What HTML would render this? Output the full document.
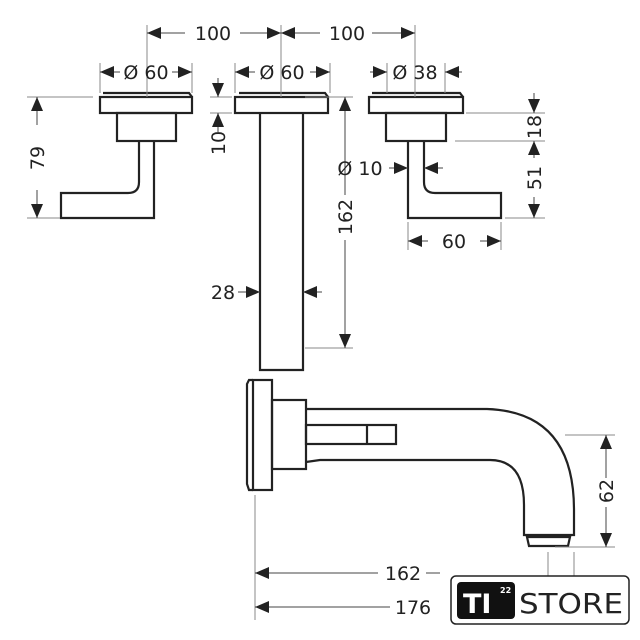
<!DOCTYPE html>
<html><head><style>body{margin:0;background:#fff}svg{display:block}text{font-family:"DejaVu Sans","Liberation Sans",sans-serif;fill:#222}</style></head>
<body>
<svg width="640" height="640" viewBox="0 0 640 640" xmlns="http://www.w3.org/2000/svg">
<defs>
<marker id="a" markerUnits="userSpaceOnUse" markerWidth="16" markerHeight="14" refX="14" refY="6" orient="auto"><path d="M0,0 L14,6 L0,12 Z" fill="#222"/></marker>
</defs>
<g fill="none" stroke="#222" stroke-width="2.2">
<path d="M103,93 H189 L192,97"/><rect x="100" y="97" width="92" height="16"/>
<rect x="117" y="113" width="59" height="28"/>
<path d="M139,141 V182 Q139,193 128,193 H61 V218 H154 V141"/>
<path d="M239,93 H325 L328,97"/><rect x="235" y="97" width="93" height="16"/>
<path d="M260,113 V370 H303 V113"/>
<path d="M372,93 H460 L463,97"/><rect x="369" y="97" width="94" height="16"/>
<rect x="386" y="113" width="60" height="28"/>
<path d="M408,141 V218 H501 V193 H435 Q424,193 424,182 V141"/>
<path d="M253,380 H249 L247,384 V484 L249,490 H253"/>
<rect x="253" y="380" width="19" height="110"/>
<rect x="272" y="400" width="34" height="69"/>
<path d="M306,409 H487 Q574,412 574,510 V535 H524 V505 Q524,460 490,460 H320 L306,462"/>
<rect x="306" y="425" width="90" height="19"/><path d="M367,425 V444"/>
<path d="M527,537 H570 L568,546 H529 Z"/>
</g>
<g stroke="#888" stroke-width="1" fill="none">
<path d="M147,25 V97 M281,25 V97 M415,25 V97"/>
<path d="M100,63 V93 M192,63 V93 M235,63 V93 M330,63 V93 M387,63 V93 M445,63 V93"/>
<path d="M27,97 H93 M27,218 H60"/>
<path d="M210,97 H232 M210,113 H232 M305,97 H353"/>
<path d="M305,348 H353"/>
<path d="M466,113 H545 M455,141 H545 M505,218 H545"/>
<path d="M408,222 V250 M501,222 V250"/>
<path d="M565,435 H615 M555,547 H615"/>
<path d="M255,495 V620 M548,552 V580 M574,552 V580"/>
</g>
<g stroke="#444" stroke-width="1" fill="none">
<path d="M185,33 H147" marker-end="url(#a)"/><path d="M240,33 H281" marker-end="url(#a)"/>
<path d="M320,33 H281" marker-end="url(#a)"/><path d="M372,33 H415" marker-end="url(#a)"/>
<path d="M120,72 H100" marker-end="url(#a)"/><path d="M172,72 H192" marker-end="url(#a)"/>
<path d="M255,72 H235" marker-end="url(#a)"/><path d="M310,72 H330" marker-end="url(#a)"/>
<path d="M370,72 H387" marker-end="url(#a)"/><path d="M462,72 H445" marker-end="url(#a)"/>
<path d="M37,125 V97" marker-end="url(#a)"/><path d="M37,190 V218" marker-end="url(#a)"/>
<path d="M218,78 V97" marker-end="url(#a)"/><path d="M218,132 V113" marker-end="url(#a)"/>
<path d="M345,195 V97" marker-end="url(#a)"/><path d="M345,240 V348" marker-end="url(#a)"/>
<path d="M238,292 H260" marker-end="url(#a)"/><path d="M322,292 H303" marker-end="url(#a)"/>
<path d="M389,168 H408" marker-end="url(#a)"/><path d="M443,168 H424" marker-end="url(#a)"/>
<path d="M534,93 V113" marker-end="url(#a)"/><path d="M534,158 V141" marker-end="url(#a)"/><path d="M534,197 V218" marker-end="url(#a)"/>
<path d="M428,241 H408" marker-end="url(#a)"/><path d="M480,241 H501" marker-end="url(#a)"/>
<path d="M606,478 V435" marker-end="url(#a)"/><path d="M606,507 V547" marker-end="url(#a)"/>
<path d="M378,573 H255" marker-end="url(#a)"/><path d="M426,573 H440"/>
<path d="M390,607 H255" marker-end="url(#a)"/>
</g>
<g font-size="19">
<text x="213" y="40" text-anchor="middle">100</text>
<text x="347" y="40" text-anchor="middle">100</text>
<text x="146" y="79" text-anchor="middle">Ø 60</text>
<text x="282" y="79" text-anchor="middle">Ø 60</text>
<text x="415" y="79" text-anchor="middle">Ø 38</text>
<text x="223" y="299" text-anchor="middle">28</text>
<text x="360" y="175" text-anchor="middle">Ø 10</text>
<text x="454" y="248" text-anchor="middle">60</text>
<text x="403" y="580" text-anchor="middle">162</text>
<text x="413" y="614" text-anchor="middle">176</text>
<text transform="translate(44,158) rotate(-90)" text-anchor="middle">79</text>
<text transform="translate(225,143) rotate(-90)" text-anchor="middle">10</text>
<text transform="translate(352,217) rotate(-90)" text-anchor="middle">162</text>
<text transform="translate(541,127) rotate(-90)" text-anchor="middle">18</text>
<text transform="translate(541,178) rotate(-90)" text-anchor="middle">51</text>
<text transform="translate(613,491) rotate(-90)" text-anchor="middle">62</text>
</g>
<rect x="451" y="576" width="178" height="48" rx="5" fill="#fff" stroke="#222" stroke-width="1.5"/>
<rect x="457" y="582" width="58" height="37" rx="4" fill="#111"/>
<text x="463" y="613" font-size="27" font-weight="bold" style="fill:#fff">TI</text>
<text x="500" y="593" font-size="8" font-weight="bold" style="fill:#fff">22</text>
<text x="519" y="613" font-size="28" textLength="104" lengthAdjust="spacingAndGlyphs">STORE</text>
</svg>
</body></html>
